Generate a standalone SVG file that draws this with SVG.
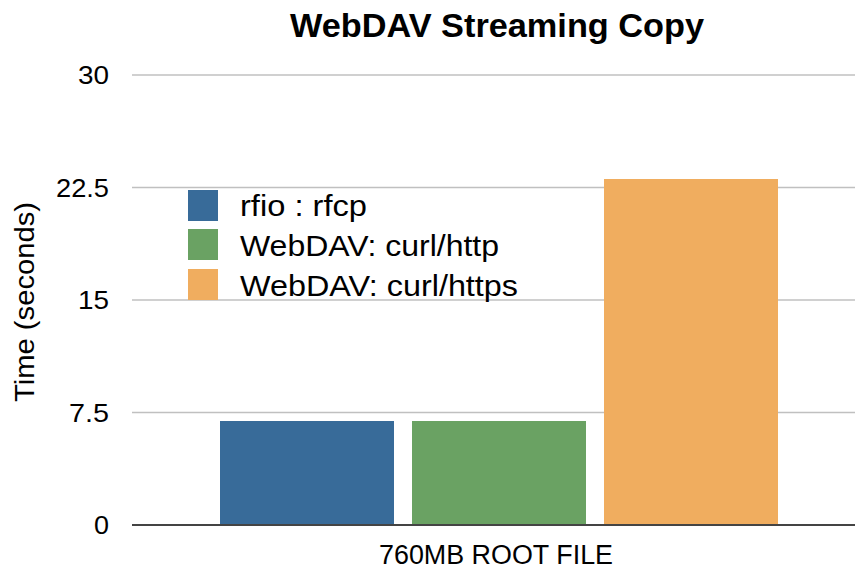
<svg xmlns="http://www.w3.org/2000/svg" width="855" height="571" viewBox="0 0 855 571">
<style>
text{font-family:"Liberation Sans",Arial,sans-serif;fill:#000}
.tick{font-size:26px;text-anchor:end}
.grid{stroke:#c0c0c0;stroke-width:1.5}
.leg{font-size:30px}
</style>
<rect width="855" height="571" fill="#fff"/>
<text x="497" y="37" font-size="34" font-weight="bold" text-anchor="middle" textLength="414" lengthAdjust="spacingAndGlyphs">WebDAV Streaming Copy</text>
<g id="grid">
<line class="grid" x1="132" y1="75" x2="855" y2="75"/>
<line class="grid" x1="132" y1="187.5" x2="855" y2="187.5"/>
<line class="grid" x1="132" y1="300" x2="855" y2="300"/>
<line class="grid" x1="132" y1="412.5" x2="855" y2="412.5"/>
</g>
<g id="ticks">
<text class="tick" x="109" y="84" textLength="31" lengthAdjust="spacingAndGlyphs">30</text>
<text class="tick" x="109" y="197" textLength="53" lengthAdjust="spacingAndGlyphs">22.5</text>
<text class="tick" x="109" y="309" textLength="31" lengthAdjust="spacingAndGlyphs">15</text>
<text class="tick" x="109" y="422" textLength="40" lengthAdjust="spacingAndGlyphs">7.5</text>
<text class="tick" x="109" y="534" textLength="15" lengthAdjust="spacingAndGlyphs">0</text>
</g>
<text transform="translate(34,302) rotate(-90)" font-size="28" text-anchor="middle" textLength="200" lengthAdjust="spacingAndGlyphs">Time (seconds)</text>
<g id="bars">
<rect x="220" y="421" width="174" height="104" fill="#386b99"/>
<rect x="412" y="421" width="174" height="104" fill="#6aa263"/>
<rect x="604" y="179" width="174" height="346" fill="#f0ad5f"/>
</g>
<line x1="132" y1="525" x2="855" y2="525" stroke="#444" stroke-width="2"/>
<text x="496" y="564" font-size="27" text-anchor="middle" textLength="234" lengthAdjust="spacingAndGlyphs">760MB ROOT FILE</text>
<g id="legend">
<rect x="188" y="190" width="30" height="31" fill="#386b99"/>
<rect x="188" y="229" width="30" height="31" fill="#6aa263"/>
<rect x="188" y="269" width="30" height="31" fill="#f0ad5f"/>
<text class="leg" x="240" y="216" textLength="127" lengthAdjust="spacingAndGlyphs">rfio : rfcp</text>
<text class="leg" x="240" y="256" textLength="259" lengthAdjust="spacingAndGlyphs">WebDAV: curl/http</text>
<text class="leg" x="240" y="296" textLength="278" lengthAdjust="spacingAndGlyphs">WebDAV: curl/https</text>
</g>
</svg>
